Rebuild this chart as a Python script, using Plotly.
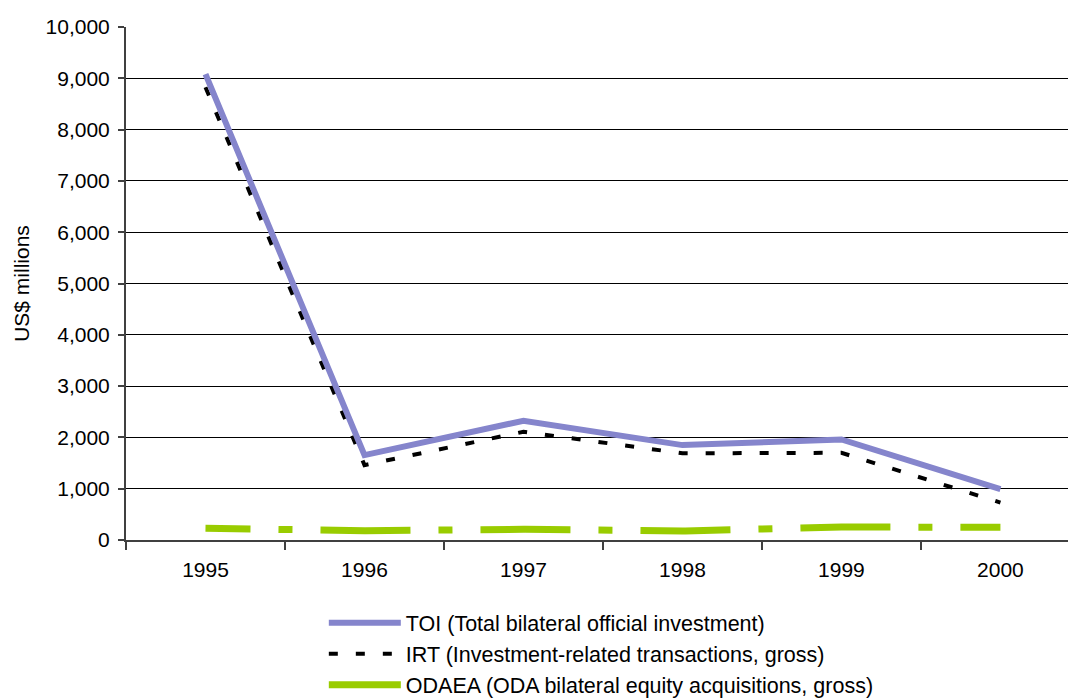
import plotly.graph_objects as go

years = ["1995", "1996", "1997", "1998", "1999", "2000"]
toi = [9080, 1655, 2325, 1850, 1960, 990]
irt = [8825, 1460, 2110, 1690, 1700, 730]
odaea = [227, 182, 209, 175, 253, 247]

names = [
    "TOI (Total bilateral official investment)",
    "IRT (Investment-related transactions, gross)",
    "ODAEA (ODA bilateral equity acquisitions, gross)",
]
y_ticks = list(range(0, 10001, 1000))

fig = go.Figure()
fig.add_trace(go.Scatter(x=years, y=odaea, name=names[2], mode="lines",
                         line=dict(color="#99CC00", width=7,
                                   dash="45px,28px,14px,28px,45px,0px"),
                         showlegend=False))
fig.add_trace(go.Scatter(x=years, y=irt, name=names[1], mode="lines",
                         line=dict(color="#000000", width=4, dash="9px,18px"),
                         showlegend=False))
fig.add_trace(go.Scatter(x=years, y=toi, name=names[0], mode="lines",
                         line=dict(color="#8585CC", width=6),
                         showlegend=False))
# legend entries (in reference order)
fig.add_trace(go.Scatter(x=[None], y=[None], name=names[0], mode="lines",
                         line=dict(color="#8585CC", width=6)))
fig.add_trace(go.Scatter(x=[None], y=[None], name=names[1], mode="lines",
                         line=dict(color="#000000", width=4, dash="9px,18px")))
fig.add_trace(go.Scatter(x=[None], y=[None], name=names[2], mode="lines",
                         line=dict(color="#99CC00", width=7)))

font = dict(family="Liberation Sans, Arial, sans-serif", size=21, color="#000000")

fig.update_layout(
    width=1068, height=700,
    margin=dict(l=126, r=0, t=27, b=160, autoexpand=False),
    paper_bgcolor="white", plot_bgcolor="white",
    font=font,
    showlegend=True,
    legend=dict(x=0.21, y=-0.1215, xanchor="left", yanchor="top",
                orientation="v", itemwidth=72, bgcolor="rgba(0,0,0,0)",
                font=dict(size=21.5), traceorder="normal", tracegroupgap=0),
    xaxis=dict(type="category", range=[-0.5, 5.425], showgrid=False,
               automargin=False,
               showline=True, linecolor="#404040", linewidth=2,
               ticks="outside", tickson="boundaries", ticklen=8,
               tickcolor="#404040", tickwidth=2, ticklabelstandoff=10,
               tickfont=dict(size=21), zeroline=False),
    yaxis=dict(range=[0, 10000], tickvals=y_ticks, tickformat=",",
               automargin=False,
               showgrid=True, gridcolor="#000000", gridwidth=1,
               showline=True, linecolor="#404040", linewidth=2,
               ticks="outside", ticklen=6, tickcolor="#404040", tickwidth=2,
               ticklabelstandoff=4,
               tickfont=dict(size=21), zeroline=False,
               title=dict(text="US$ millions", font=dict(size=21), standoff=10)),
)

fig.write_html("out.html", config={"displayModeBar": False},
               post_script="document.body.style.margin='0';document.body.style.overflow='hidden';")
